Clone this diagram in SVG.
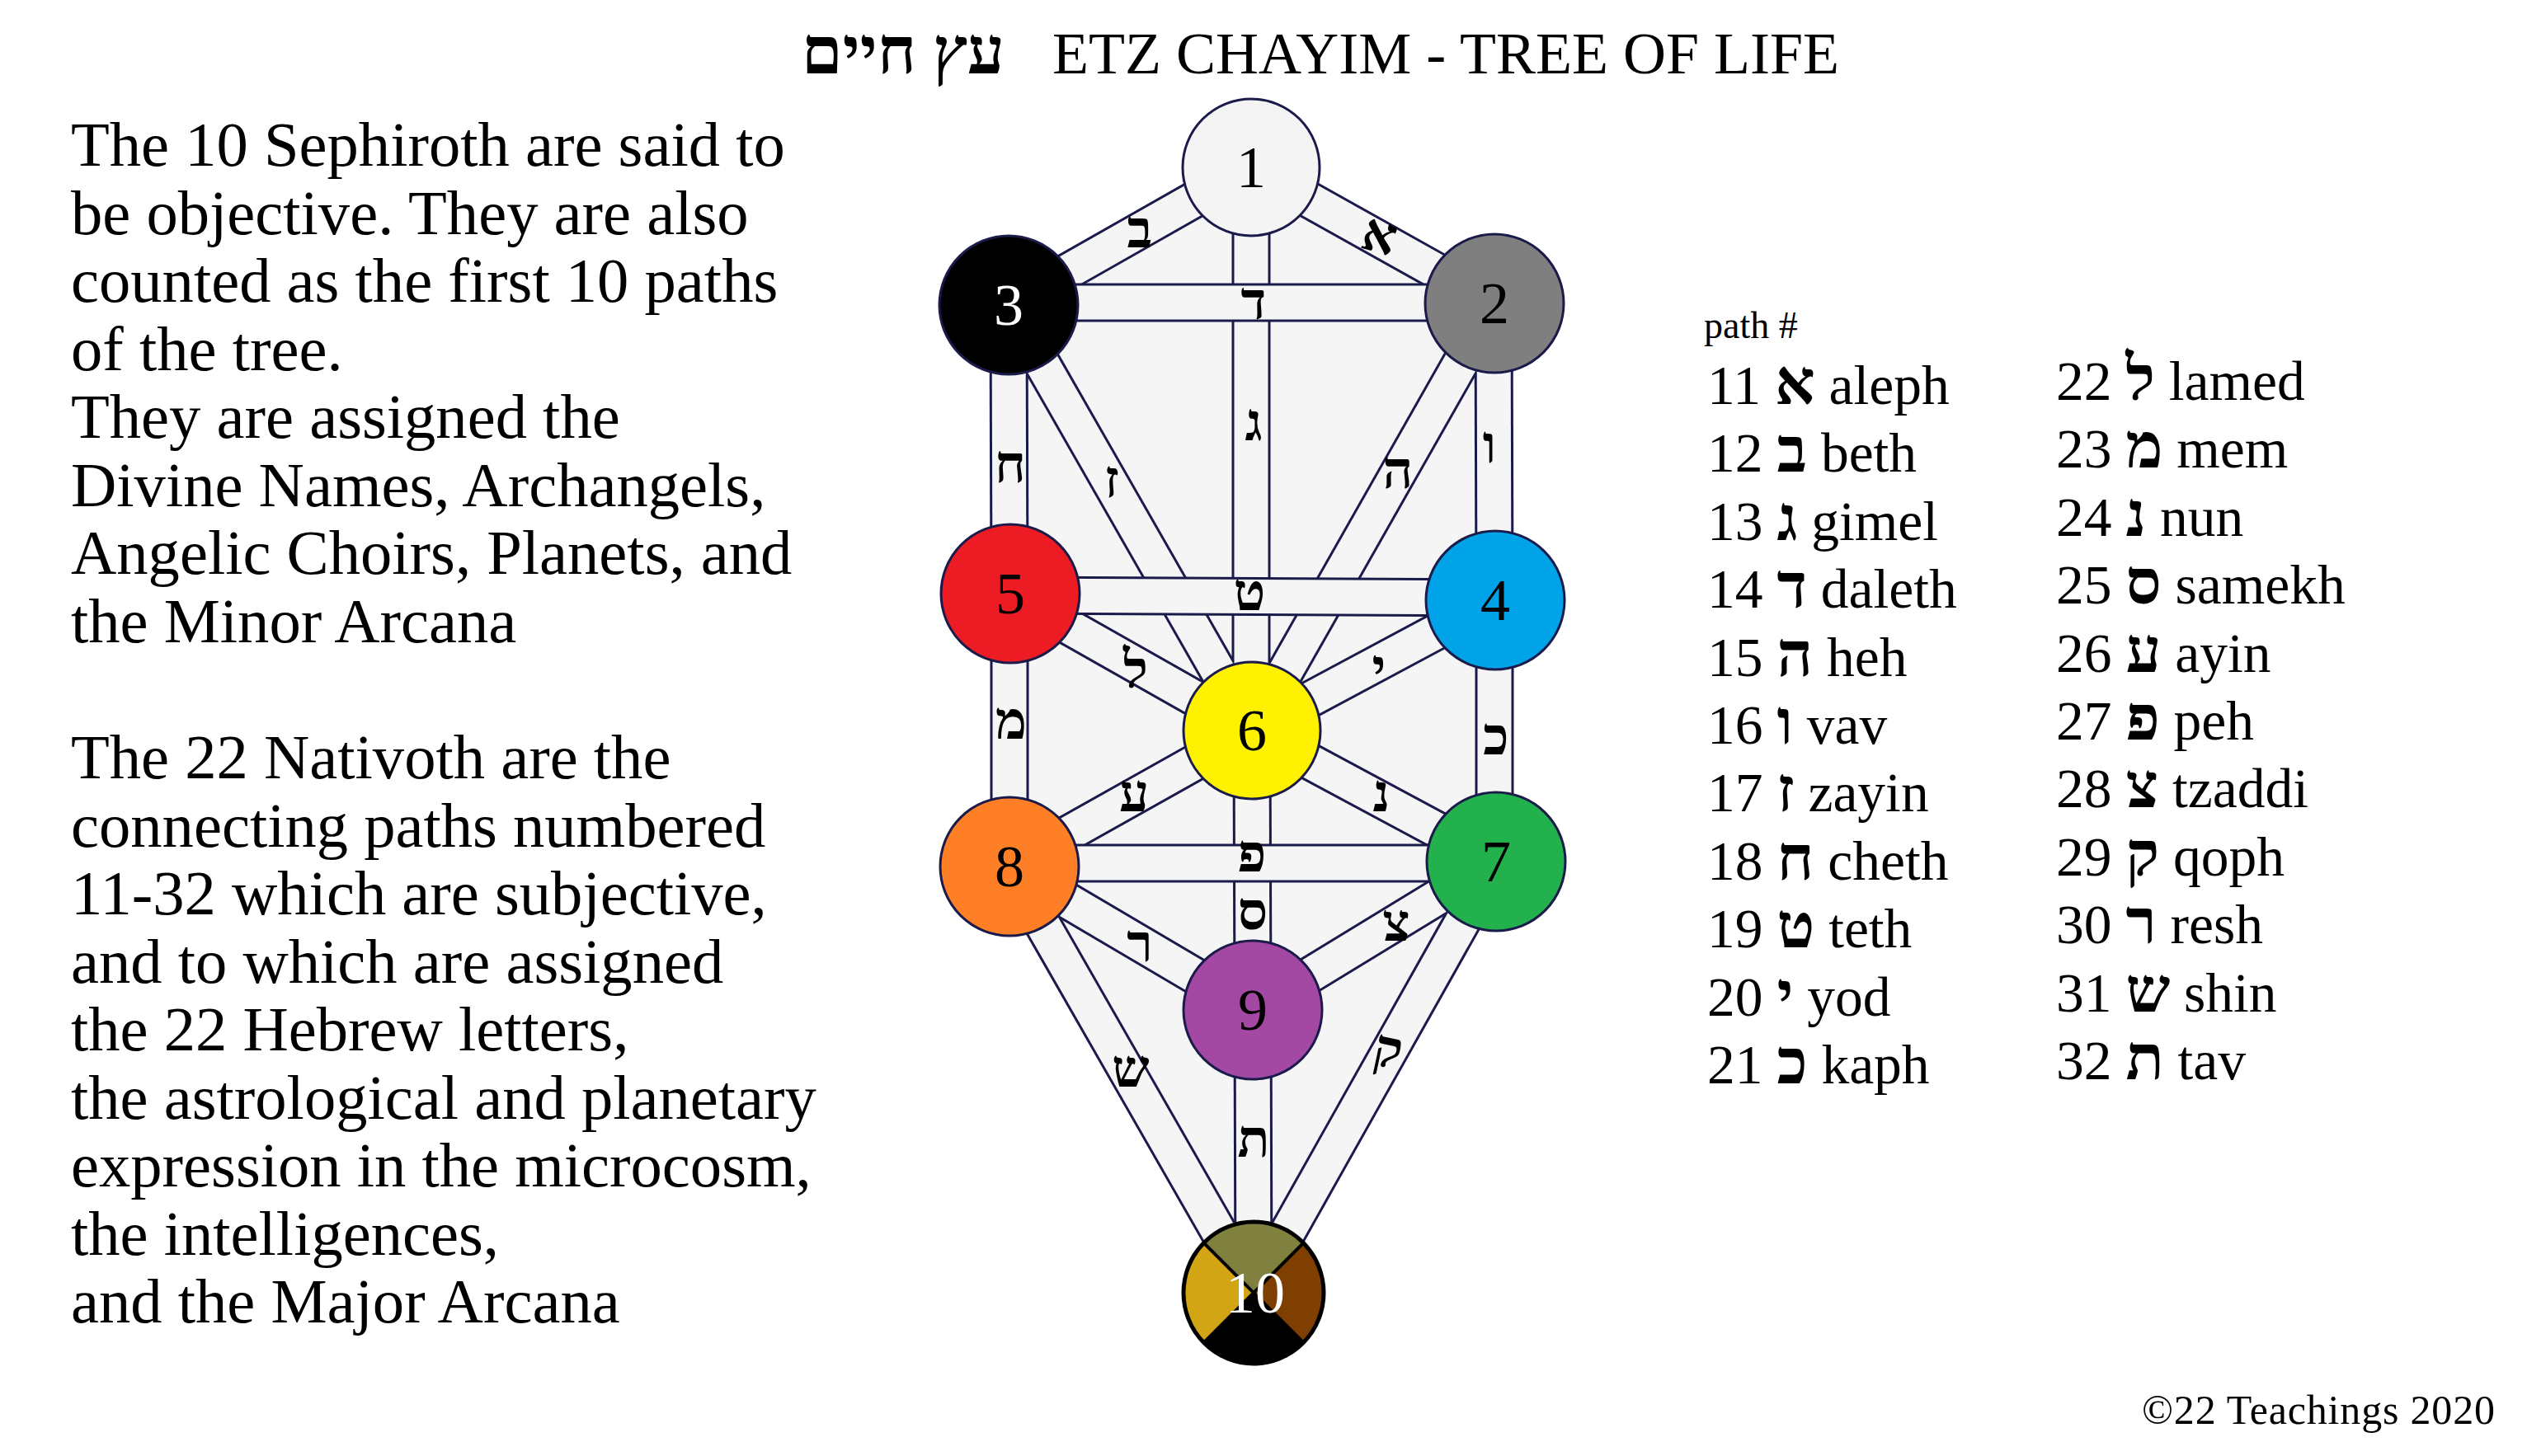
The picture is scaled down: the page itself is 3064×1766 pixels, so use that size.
<svg xmlns="http://www.w3.org/2000/svg" width="3064" height="1766" viewBox="0 0 3064 1766">
<defs>
<style>
.t{font-family:"Liberation Serif","DejaVu Serif",serif;fill:#000}
.title{font-size:72px}
.htitle{font-size:80px;font-weight:bold}
.para{font-size:76.6px}
.hdr{font-size:46px}
.lst{font-size:67.5px}
.hb{font-weight:bold;font-size:76px}
.copy{font-size:50px}
.heb{font-family:"Liberation Serif","DejaVu Sans",serif;font-size:64px;font-weight:bold;text-anchor:middle;fill:#000}
.num{font-family:"Liberation Serif","DejaVu Serif",serif;font-size:72px;text-anchor:middle}
.edge line{stroke:#1b1b4b;stroke-width:47}
.band line{stroke:#f5f5f5;stroke-width:41}
.node{stroke:#1b1b4b;stroke-width:3}
</style>
<clipPath id="c10"><ellipse cx="1520" cy="1568" rx="85" ry="86"/></clipPath>
</defs>
<rect width="3064" height="1766" fill="#ffffff"/>

<g id="title">
<text class="t htitle" x="1218" y="89" text-anchor="end">עץ חיים</text>
<text class="t title" x="1276" y="89">ETZ CHAYIM - TREE OF LIFE</text>
</g>

<g id="description">
<text class="t para" x="86" y="201">The 10 Sephiroth are said to</text>
<text class="t para" x="86" y="283.5">be objective. They are also</text>
<text class="t para" x="86" y="366">counted as the first 10 paths</text>
<text class="t para" x="86" y="448.5">of the tree.</text>
<text class="t para" x="86" y="531">They are assigned the</text>
<text class="t para" x="86" y="613.5">Divine Names, Archangels,</text>
<text class="t para" x="86" y="696">Angelic Choirs, Planets, and</text>
<text class="t para" x="86" y="778.5">the Minor Arcana</text>
<text class="t para" x="86" y="944">The 22 Nativoth are the</text>
<text class="t para" x="86" y="1026.5">connecting paths numbered</text>
<text class="t para" x="86" y="1109">11-32 which are subjective,</text>
<text class="t para" x="86" y="1191.5">and to which are assigned</text>
<text class="t para" x="86" y="1274">the 22 Hebrew letters,</text>
<text class="t para" x="86" y="1356.5">the astrological and planetary</text>
<text class="t para" x="86" y="1439">expression in the microcosm,</text>
<text class="t para" x="86" y="1521.5">the intelligences,</text>
<text class="t para" x="86" y="1604">and the Major Arcana</text>
</g>

<g id="background">
<polygon points="1517,203 1812,368 1813,728 1814,1045 1520,1568 1224,1051 1225,720 1223,370" fill="#f5f5f5"/>
</g>

<g id="connectors">
<g class="edge">
<line x1="1517" y1="203" x2="1812" y2="368"/>
<line x1="1517" y1="203" x2="1223" y2="370"/>
<line x1="1517" y1="203" x2="1517" y2="886"/>
<line x1="1812" y1="368" x2="1518" y2="886"/>
<line x1="1811" y1="368" x2="1812" y2="728"/>
<line x1="1223" y1="370" x2="1518" y2="886"/>
<line x1="1223" y1="370" x2="1224" y2="720"/>
<line x1="1813" y1="728" x2="1518" y2="886"/>
<line x1="1812" y1="728" x2="1812" y2="1045"/>
<line x1="1225" y1="720" x2="1518" y2="886"/>
<line x1="1224" y1="720" x2="1224" y2="1051"/>
<line x1="1518" y1="886" x2="1814" y2="1045"/>
<line x1="1518" y1="886" x2="1519" y2="1225"/>
<line x1="1518" y1="886" x2="1224" y2="1051"/>
<line x1="1814" y1="1045" x2="1519" y2="1225"/>
<line x1="1814" y1="1045" x2="1520" y2="1568"/>
<line x1="1224" y1="1051" x2="1519" y2="1225"/>
<line x1="1224" y1="1051" x2="1520" y2="1568"/>
<line x1="1519" y1="1225" x2="1520" y2="1568"/>
</g>
<g class="band">
<line x1="1517" y1="203" x2="1812" y2="368"/>
<line x1="1517" y1="203" x2="1223" y2="370"/>
<line x1="1517" y1="203" x2="1517" y2="886"/>
<line x1="1812" y1="368" x2="1518" y2="886"/>
<line x1="1811" y1="368" x2="1812" y2="728"/>
<line x1="1223" y1="370" x2="1518" y2="886"/>
<line x1="1223" y1="370" x2="1224" y2="720"/>
<line x1="1813" y1="728" x2="1518" y2="886"/>
<line x1="1812" y1="728" x2="1812" y2="1045"/>
<line x1="1225" y1="720" x2="1518" y2="886"/>
<line x1="1224" y1="720" x2="1224" y2="1051"/>
<line x1="1518" y1="886" x2="1814" y2="1045"/>
<line x1="1518" y1="886" x2="1519" y2="1225"/>
<line x1="1518" y1="886" x2="1224" y2="1051"/>
<line x1="1814" y1="1045" x2="1519" y2="1225"/>
<line x1="1814" y1="1045" x2="1520" y2="1568"/>
<line x1="1224" y1="1051" x2="1519" y2="1225"/>
<line x1="1224" y1="1051" x2="1520" y2="1568"/>
<line x1="1519" y1="1225" x2="1520" y2="1568"/>
</g>
<g class="edge">
<line x1="1223" y1="367" x2="1812" y2="367"/>
<line x1="1225" y1="722" x2="1813" y2="725"/>
<line x1="1224" y1="1047" x2="1814" y2="1047"/>
</g>
<g class="band">
<line x1="1223" y1="367" x2="1812" y2="367"/>
<line x1="1225" y1="722" x2="1813" y2="725"/>
<line x1="1224" y1="1047" x2="1814" y2="1047"/>
</g>
<g id="path-letters">
<text class="heb" x="1672" y="306" transform="rotate(15 1672 288)">א</text>
<text class="heb" x="1382" y="300">ב</text>
<text class="heb" x="1520" y="534">ג</text>
<text class="heb" x="1520" y="387">ד</text>
<text class="heb" x="1695" y="592">ה</text>
<text class="heb" x="1806" y="561">ו</text>
<text class="heb" x="1348" y="603">ז</text>
<text class="heb" x="1225" y="585">ח</text>
<text class="heb" x="1515" y="740">ט</text>
<text class="heb" x="1672" y="832">י</text>
<text class="heb" x="1814" y="915">כ</text>
<text class="heb" x="1377" y="834">ל</text>
<text class="heb" x="1226" y="896">מ</text>
<text class="heb" x="1675" y="984">נ</text>
<text class="heb" x="1519" y="1127">ס</text>
<text class="heb" x="1375" y="984">ע</text>
<text class="heb" x="1518" y="1057">פ</text>
<text class="heb" x="1693" y="1141">צ</text>
<text class="heb" x="1682" y="1294" transform="rotate(12 1682 1280)">ק</text>
<text class="heb" x="1382" y="1166">ר</text>
<text class="heb" x="1371" y="1318">ש</text>
<text class="heb" x="1520" y="1403">ת</text>
</g>
</g>

<g id="node-1"><circle class="node" cx="1517" cy="203" r="83" fill="#f4f4f4"/><text class="num" x="1517" y="227">1</text></g>
<g id="node-2"><circle class="node" cx="1812" cy="368" r="84" fill="#7f7f7f"/><text class="num" x="1812" y="392">2</text></g>
<g id="node-3"><circle class="node" cx="1223" cy="370" r="84" fill="#000000"/><text class="num" x="1223" y="394" fill="#ffffff">3</text></g>
<g id="node-4"><circle class="node" cx="1813" cy="728" r="84" fill="#00a2e8"/><text class="num" x="1813" y="752">4</text></g>
<g id="node-5"><circle class="node" cx="1225" cy="720" r="84" fill="#ed1c24"/><text class="num" x="1225" y="744">5</text></g>
<g id="node-6"><circle class="node" cx="1518" cy="886" r="83" fill="#fff200"/><text class="num" x="1518" y="910">6</text></g>
<g id="node-7"><circle class="node" cx="1814" cy="1045" r="84" fill="#22b14c"/><text class="num" x="1814" y="1069">7</text></g>
<g id="node-8"><circle class="node" cx="1224" cy="1051" r="84" fill="#ff7f27"/><text class="num" x="1224" y="1075">8</text></g>
<g id="node-9"><circle class="node" cx="1519" cy="1225" r="84" fill="#a349a4"/><text class="num" x="1519" y="1249">9</text></g>
<g id="node-10">
<g clip-path="url(#c10)">
<rect x="1430" y="1478" width="180" height="180" fill="#000000"/>
<polygon points="1520,1568 1420,1468 1620,1468" fill="#80803f"/>
<polygon points="1520,1568 1420,1468 1420,1668" fill="#d2a514"/>
<polygon points="1520,1568 1620,1468 1620,1668" fill="#7f3f00"/>
<line x1="1420" y1="1468" x2="1620" y2="1668" stroke="#000" stroke-width="4"/>
<line x1="1620" y1="1468" x2="1420" y2="1668" stroke="#000" stroke-width="4"/>
</g>
<ellipse cx="1520" cy="1568" rx="85" ry="86" fill="none" stroke="#000" stroke-width="5"/>
<text class="num" x="1522" y="1592" fill="#ffffff">10</text>
</g>

<g id="path-list">
<text class="t hdr" x="2066" y="410">path #</text>
<text class="t lst" x="2070" y="490">11 <tspan class="hb">א</tspan> aleph</text>
<text class="t lst" x="2070" y="572.4">12 <tspan class="hb">ב</tspan> beth</text>
<text class="t lst" x="2070" y="654.8">13 <tspan class="hb">ג</tspan> gimel</text>
<text class="t lst" x="2070" y="737.2">14 <tspan class="hb">ד</tspan> daleth</text>
<text class="t lst" x="2070" y="819.6">15 <tspan class="hb">ה</tspan> heh</text>
<text class="t lst" x="2070" y="902">16 <tspan class="hb">ו</tspan> vav</text>
<text class="t lst" x="2070" y="984.4">17 <tspan class="hb">ז</tspan> zayin</text>
<text class="t lst" x="2070" y="1066.8">18 <tspan class="hb">ח</tspan> cheth</text>
<text class="t lst" x="2070" y="1149.2">19 <tspan class="hb">ט</tspan> teth</text>
<text class="t lst" x="2070" y="1231.6">20 <tspan class="hb">י</tspan> yod</text>
<text class="t lst" x="2070" y="1314">21 <tspan class="hb">כ</tspan> kaph</text>
<text class="t lst" x="2493" y="485">22 <tspan class="hb">ל</tspan> lamed</text>
<text class="t lst" x="2493" y="567.4">23 <tspan class="hb">מ</tspan> mem</text>
<text class="t lst" x="2493" y="649.8">24 <tspan class="hb">נ</tspan> nun</text>
<text class="t lst" x="2493" y="732.2">25 <tspan class="hb">ס</tspan> samekh</text>
<text class="t lst" x="2493" y="814.6">26 <tspan class="hb">ע</tspan> ayin</text>
<text class="t lst" x="2493" y="897">27 <tspan class="hb">פ</tspan> peh</text>
<text class="t lst" x="2493" y="979.4">28 <tspan class="hb">צ</tspan> tzaddi</text>
<text class="t lst" x="2493" y="1061.8">29 <tspan class="hb">ק</tspan> qoph</text>
<text class="t lst" x="2493" y="1144.2">30 <tspan class="hb">ר</tspan> resh</text>
<text class="t lst" x="2493" y="1226.6">31 <tspan class="hb">ש</tspan> shin</text>
<text class="t lst" x="2493" y="1309">32 <tspan class="hb">ת</tspan> tav</text>
</g>

<g id="copyright">
<text class="t copy" x="2597" y="1727" textLength="428" lengthAdjust="spacing">©22 Teachings 2020</text>
</g>
</svg>
